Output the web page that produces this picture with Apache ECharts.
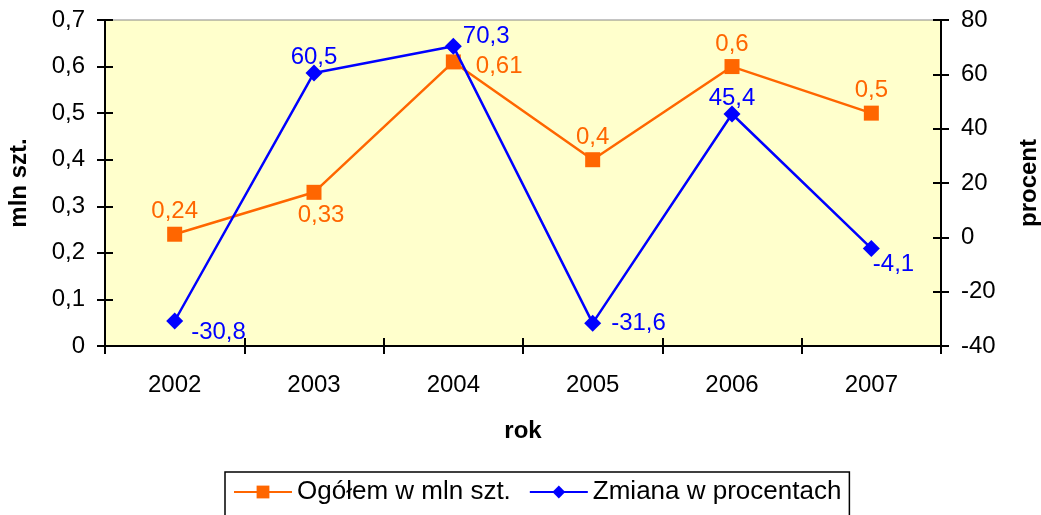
<!DOCTYPE html>
<html>
<head>
<meta charset="utf-8">
<script src="https://cdn.jsdelivr.net/npm/echarts@6/dist/echarts.min.js"></script>
<style>
  html, body { margin: 0; padding: 0; background: #fff; }
  #chart { width: 1041px; height: 515px; }
</style>
</head>
<body>
<div id="chart"></div>
<script>
// dane
const years = ['2002', '2003', '2004', '2005', '2006', '2007']
const ogolem = [0.24, 0.33, 0.61, 0.4, 0.6, 0.5]
const zmiana = [-30.8, 60.5, 70.3, -31.6, 45.4, -4.1]

const ORANGE = '#FF6600'
const BLUE = '#0000FF'
const FONT = 'Liberation Sans, Arial, sans-serif'
const FS = 24

const comma = v => String(v).replace('.', ',')

// pozycje etykiet danych
const orangeLabels = [
  { position: 'top', distance: 3 },
  { position: 'bottom', distance: 4, offset: [7, 0] },
  { position: 'right', distance: 15, offset: [0, 4] },
  { position: 'top', distance: 3 },
  { position: 'top', distance: 3 },
  { position: 'top', distance: 3 },
]
const blueLabels = [
  { position: 'right', distance: 8, offset: [0, 11] },
  { position: 'top', distance: -5 },
  { position: 'right', distance: 1, offset: [0, -10] },
  { position: 'right', distance: 10, offset: [0, 0] },
  { position: 'top', distance: -5 },
  { position: 'right', distance: -7, offset: [0, 16] },
]

const chart = echarts.init(document.getElementById('chart'), null, { renderer: 'canvas' })

const axisLine = { show: true, onZero: false, lineStyle: { color: '#000', width: 2 } }
const tickOut = { show: true, length: 8, lineStyle: { color: '#000', width: 2 } }
const tickIn = { show: true, inside: true, length: 8, lineStyle: { color: '#000', width: 2 } }
const labelStyle = { color: '#000', fontSize: FS, fontFamily: FONT }
const nameStyle = { color: '#000', fontSize: FS, fontFamily: FONT, fontWeight: 'bold' }

chart.setOption({
  animation: false,
  textStyle: { fontFamily: FONT },
  grid: {
    left: 105, right: 100, top: 20, bottom: 169,
    z: 0,
    outerBoundsMode: 'none',
    containLabel: false,
    show: true, backgroundColor: '#FFFFCC', borderColor: '#888', borderWidth: 1,
  },
  legend: {
    left: 225,
    top: 472,
    padding: [7, 8, 12, 8],
    borderColor: '#000',
    borderWidth: 1.5,
    itemWidth: 58,
    itemHeight: 16,
    itemGap: 18,
    textStyle: { color: '#000', fontSize: 26, fontFamily: FONT },
    data: ['Ogółem w mln szt.', 'Zmiana w procentach'],
  },
  xAxis: [
    {
      type: 'category',
      data: years,
      z: 10,
      name: 'rok',
      nameLocation: 'middle',
      nameGap: 73,
      nameTextStyle: nameStyle,
      axisLine,
      axisTick: tickOut,
      axisLabel: { ...labelStyle, margin: 27 },
      splitLine: { show: false },
    },
    {
      // tylko wewnętrzne kreski podziałki
      type: 'category',
      data: years,
      position: 'bottom',
      z: 10,
      axisLine,
      axisTick: tickIn,
      axisLabel: { show: false },
      splitLine: { show: false },
    },
  ],
  yAxis: [
    {
      type: 'value',
      min: 0, max: 0.7, interval: 0.1,
      position: 'left',
      z: 10,
      name: 'mln szt.',
      nameLocation: 'middle',
      nameGap: 74,
      nameRotate: 90,
      nameTextStyle: nameStyle,
      axisLine,
      axisTick: tickOut,
      axisLabel: { ...labelStyle, margin: 20, formatter: v => comma(+v.toFixed(1)) },
      splitLine: { show: false },
    },
    {
      type: 'value',
      min: -40, max: 80, interval: 20,
      position: 'right',
      z: 10,
      name: 'procent',
      nameLocation: 'middle',
      nameGap: 76,
      nameRotate: 90,
      nameTextStyle: nameStyle,
      axisLine,
      axisTick: tickOut,
      axisLabel: { ...labelStyle, margin: 20 },
      splitLine: { show: false },
    },
    {
      type: 'value',
      min: 0, max: 0.7, interval: 0.1,
      position: 'left',
      z: 10,
      axisLine,
      axisTick: tickIn,
      axisLabel: { show: false },
      splitLine: { show: false },
    },
    {
      type: 'value',
      min: -40, max: 80, interval: 20,
      position: 'right',
      z: 10,
      axisLine,
      axisTick: tickIn,
      axisLabel: { show: false },
      splitLine: { show: false },
    },
  ],
  series: [
    {
      name: 'Ogółem w mln szt.',
      type: 'line',
      yAxisIndex: 0,
      z: 3,
      data: ogolem.map((v, i) => ({
        value: v,
        label: { show: true, ...orangeLabels[i] },
      })),
      symbol: 'rect',
      symbolSize: 15,
      lineStyle: { color: ORANGE, width: 2.5 },
      itemStyle: { color: ORANGE },
      label: { color: ORANGE, fontSize: FS, fontFamily: FONT, formatter: p => comma(p.value) },
    },
    {
      name: 'Zmiana w procentach',
      type: 'line',
      yAxisIndex: 1,
      z: 4,
      data: zmiana.map((v, i) => ({
        value: v,
        label: { show: true, ...blueLabels[i] },
      })),
      symbol: 'diamond',
      symbolSize: 17,
      lineStyle: { color: BLUE, width: 2.5 },
      itemStyle: { color: BLUE },
      label: { color: BLUE, fontSize: FS, fontFamily: FONT, formatter: p => comma(p.value) },
    },
    // puste serie, żeby pomocnicze osie zostały narysowane
    { type: 'line', xAxisIndex: 1, yAxisIndex: 2, data: [] },
    { type: 'line', xAxisIndex: 1, yAxisIndex: 3, data: [] },
  ],
})
</script>
</body>
</html>
